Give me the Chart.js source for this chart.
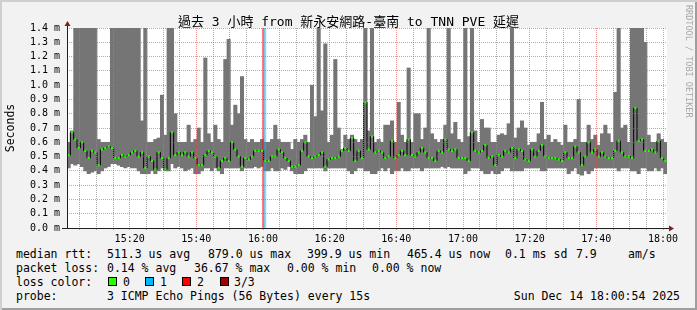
<!DOCTYPE html>
<html>
<head>
<meta charset="utf-8">
<script src="https://cdn.jsdelivr.net/npm/chart.js@4.4.1/dist/chart.umd.min.js"></script>
<style>
  html, body { margin: 0; padding: 0; }
  #frame {
    position: relative; width: 697px; height: 310px; overflow: hidden;
    background: #f2f2f2;
    box-shadow: inset 2px 2px 0 #cfcfcf, inset -2px -2px 0 #9e9e9e;
  }
  #wrap { position: absolute; left: 0; top: 0; width: 697px; height: 245px; }
  #title {
    position: absolute; left: 0; top: 12px; width: 697px; text-align: center;
    font: 13px "DejaVu Sans Mono", "Noto Sans CJK TC", monospace; line-height: 19px;
    white-space: pre; color: #000;
  }
  #mark {
    position: absolute; left: 684px; top: 5px; writing-mode: vertical-rl;
    font: 8.5px "DejaVu Sans Mono", monospace; color: #a8a8a8; white-space: pre;
  }
  .lg {
    position: absolute; font: 11.5px "DejaVu Sans Mono", monospace; line-height: 14px;
    white-space: pre; color: #000;
  }
  .box { position: absolute; width: 7px; height: 7px; border: 1px solid #000; top: 277px; }
</style>
</head>
<body>
<div id="frame">
  <div id="wrap"><canvas id="smokeChart"></canvas></div>
  <div id="title">過去 3 小時 from 新永安網路-臺南 to TNN PVE 延遲</div>
  <div id="mark">RRDTOOL / TOBI OETIKER</div>

  <div class="lg" style="left:16px;top:247px">median rtt:</div>
  <div class="lg" style="left:107px;top:247px">511.3 us avg</div>
  <div class="lg" style="left:208px;top:247px">879.0 us max</div>
  <div class="lg" style="left:307px;top:247px">399.9 us min</div>
  <div class="lg" style="left:407px;top:247px">465.4 us now</div>
  <div class="lg" style="left:505px;top:247px">0.1 ms sd</div>
  <div class="lg" style="left:576px;top:247px">7.9</div>
  <div class="lg" style="left:628px;top:247px">am/s</div>

  <div class="lg" style="left:16px;top:261px">packet loss:</div>
  <div class="lg" style="left:107px;top:261px">0.14 % avg</div>
  <div class="lg" style="left:194px;top:261px">36.67 % max</div>
  <div class="lg" style="left:287px;top:261px">0.00 % min</div>
  <div class="lg" style="left:372px;top:261px">0.00 % now</div>

  <div class="lg" style="left:16px;top:275px">loss color:</div>
  <div class="box" style="left:108px;background:#26ff00"></div>
  <div class="lg" style="left:123px;top:275px">0</div>
  <div class="box" style="left:145px;background:#00b8ff"></div>
  <div class="lg" style="left:160px;top:275px">1</div>
  <div class="box" style="left:182px;background:#ff0000"></div>
  <div class="lg" style="left:197px;top:275px">2</div>
  <div class="box" style="left:220px;background:#a00000"></div>
  <div class="lg" style="left:234px;top:275px">3/3</div>

  <div class="lg" style="left:16px;top:289px">probe:</div>
  <div class="lg" style="left:107px;top:289px">3 ICMP Echo Pings (56 Bytes) every 15s</div>
  <div class="lg" style="right:17px;top:289px">Sun Dec 14 18:00:54 2025</div>
</div>

<script>
// one sample per minute, first one at 15:01:42 (minutes counted from 15:00)
const firstMinute = 1.7;

// lowest ping of each minute (ms)
const smokeLow = [
  0.42,0.45,0.44,0.45,0.43,0.40,0.38,0.39,0.40,0.38, 0.40,0.42,0.43,0.45,0.45,0.44,0.43,0.42,0.43,0.42,
  0.42,0.40,0.38,0.38,0.38,0.40,0.38,0.40,0.42,0.40, 0.40,0.45,0.42,0.43,0.42,0.40,0.41,0.42,0.38,0.38,
  0.40,0.42,0.42,0.40,0.42,0.40,0.38,0.42,0.42,0.42, 0.42,0.42,0.40,0.42,0.42,0.42,0.43,0.42,0.43,0.40,
  0.40,0.42,0.40,0.40,0.42,0.41,0.43,0.40,0.38,0.38, 0.38,0.40,0.42,0.42,0.42,0.42,0.42,0.40,0.42,0.42,
  0.42,0.42,0.42,0.42,0.40,0.38,0.40,0.42,0.42,0.40, 0.40,0.38,0.38,0.40,0.42,0.40,0.42,0.38,0.40,0.40,
  0.42,0.40,0.40,0.42,0.42,0.42,0.40,0.42,0.42,0.42, 0.42,0.42,0.43,0.42,0.43,0.42,0.42,0.42,0.42,0.38,
  0.40,0.42,0.42,0.42,0.40,0.38,0.38,0.40,0.38,0.38, 0.40,0.42,0.42,0.40,0.40,0.40,0.40,0.42,0.42,0.42,
  0.42,0.42,0.40,0.40,0.42,0.42,0.42,0.42,0.42,0.42, 0.38,0.40,0.42,0.38,0.37,0.40,0.38,0.40,0.42,0.42,
  0.42,0.42,0.42,0.42,0.42,0.40,0.42,0.42,0.42,0.40, 0.40,0.38,0.42,0.42,0.40,0.40,0.42,0.40,0.42,0.38
];

// highest ping of each minute (ms), 1.5 = off the top of the graph
const smokeHigh = [
  0.60,0.68,1.5,1.5,1.5,1.5,1.5,1.5,1.5,0.62, 0.60,0.60,0.60,1.5,1.5,1.5,1.5,1.5,1.5,1.5,
  1.5,1.5,0.75,1.5,0.60,0.60,0.62,0.63,0.93,0.65, 1.5,1.5,0.80,0.60,0.60,0.60,0.72,0.60,0.62,0.70,
  0.60,1.19,0.66,0.60,0.72,0.62,0.60,1.18,1.32,0.72, 0.86,0.80,1.06,0.62,0.60,0.62,0.60,0.60,0.62,0.60,
  0.60,0.62,0.72,0.62,0.60,0.60,0.60,0.55,0.62,0.60, 0.62,0.65,0.60,1.00,0.78,1.5,0.82,1.29,0.60,0.65,
  1.18,0.70,0.55,0.65,0.62,0.65,0.62,0.60,0.62,1.5, 0.68,1.5,0.60,0.62,0.60,0.72,0.72,0.75,0.60,0.88,
  0.65,0.60,1.12,0.60,0.80,0.80,0.62,0.70,1.5,0.66, 0.62,0.60,0.62,0.72,1.5,0.66,0.74,0.62,0.60,1.5,
  0.64,1.5,0.68,0.60,0.76,0.70,0.70,0.60,0.60,0.65, 0.66,0.65,0.73,1.5,0.63,0.70,0.75,0.70,0.58,0.60,
  0.60,0.66,0.88,0.62,0.65,0.60,0.62,0.60,0.58,0.72, 0.60,0.60,0.62,0.90,0.60,0.60,0.72,0.62,0.65,0.58,
  0.66,0.72,0.66,0.60,0.95,1.5,0.70,0.72,0.60,1.5, 1.5,1.5,1.5,1.30,0.65,0.60,0.60,0.66,0.62,0.60
];

// median rtt of each minute (ms)
const medianRtt = [
  0.51,0.67,0.62,0.56,0.60,0.54,0.49,0.54,0.53,0.44, 0.55,0.56,0.57,0.56,0.49,0.49,0.51,0.50,0.51,0.53,
  0.54,0.50,0.53,0.42,0.50,0.47,0.41,0.53,0.49,0.41, 0.49,0.67,0.51,0.53,0.51,0.53,0.50,0.53,0.49,0.44,
  0.44,0.51,0.54,0.53,0.50,0.42,0.47,0.49,0.47,0.60, 0.55,0.50,0.43,0.49,0.48,0.50,0.54,0.54,0.54,0.47,
  0.47,0.50,0.50,0.55,0.53,0.49,0.47,0.43,0.43,0.44, 0.54,0.60,0.50,0.49,0.50,0.51,0.53,0.43,0.48,0.49,
  0.49,0.50,0.54,0.56,0.54,0.63,0.47,0.54,0.49,0.88, 0.55,0.64,0.53,0.54,0.53,0.49,0.50,0.61,0.49,0.51,
  0.54,0.51,0.62,0.51,0.50,0.53,0.56,0.53,0.49,0.49, 0.47,0.54,0.53,0.62,0.55,0.54,0.55,0.49,0.49,0.49,
  0.47,0.67,0.54,0.53,0.54,0.58,0.49,0.50,0.44,0.51, 0.50,0.54,0.53,0.56,0.49,0.55,0.54,0.48,0.47,0.55,
  0.50,0.54,0.58,0.50,0.49,0.49,0.49,0.48,0.47,0.53, 0.49,0.49,0.57,0.53,0.44,0.50,0.60,0.53,0.55,0.50,
  0.53,0.50,0.49,0.49,0.54,0.61,0.53,0.50,0.50,0.49, 0.84,0.61,0.62,0.54,0.54,0.55,0.53,0.61,0.49,0.47
];

// packet loss events (minute since 15:00, lost pings out of 3)
const lossMinutes = [60.05, 60.6];
const lossLevels = [2, 1];

const lossColors = { 1: 'rgba(0,184,255,0.5)', 2: 'rgba(255,0,0,0.5)' };
const gridMinutes = [];
for (let m = 5; m <= 180; m += 5) gridMinutes.push(m);
const yTicks = [0, 0.1, 0.2, 0.3, 0.4, 0.5, 0.6, 0.7, 0.8, 0.9, 1.0, 1.1, 1.2, 1.3, 1.4];

const mono = 'DejaVu Sans Mono';
const minorGrid = 'rgba(143,143,143,0.75)';
const majorGrid = 'rgba(222,79,79,0.6)';

const fmtTime = (m) => {
    const h = 15 + Math.floor(m / 60);
    const mm = m % 60;
    return h + ':' + (mm < 10 ? '0' : '') + mm;
};

const rrdFrame = {
    id: 'rrdFrame',
    beforeDraw(chart) {
        const {ctx, chartArea: a} = chart;
        ctx.save();
        ctx.fillStyle = '#ffffff';
        ctx.fillRect(a.left, a.top, a.right - a.left, a.bottom - a.top);
        ctx.restore();
    },
    afterDraw(chart) {
        const {ctx, chartArea: a} = chart;
        const y0 = a.bottom + 0.5;
        const x0 = a.left + 0.5;
        ctx.save();
        ctx.strokeStyle = '#1f1f1f';
        ctx.lineWidth = 1;
        ctx.beginPath();
        ctx.moveTo(a.left - 5, y0);
        ctx.lineTo(a.right + 2, y0);
        ctx.moveTo(x0, a.bottom + 1);
        ctx.lineTo(x0, a.top - 2);
        ctx.stroke();
        // arrows
        ctx.fillStyle = '#801f1f';
        ctx.beginPath();
        ctx.moveTo(x0, a.top - 7);
        ctx.lineTo(x0 - 3, a.top - 2);
        ctx.lineTo(x0 + 3, a.top - 2);
        ctx.closePath();
        ctx.fill();
        ctx.beginPath();
        ctx.moveTo(a.right + 7, y0);
        ctx.lineTo(a.right + 2, y0 - 3);
        ctx.lineTo(a.right + 2, y0 + 3);
        ctx.closePath();
        ctx.fill();
        ctx.restore();
    }
};

new Chart(document.getElementById('smokeChart').getContext('2d'), {
    type: 'bar',
    data: {
        datasets: [
            {
                type: 'line',
                label: 'median rtt',
                data: medianRtt.map((v, i) => ({x: firstMinute + i, y: v})),
                borderColor: '#000000',
                borderWidth: 1,
                stepped: 'middle',
                pointStyle: 'rect',
                pointRadius: 1.6,
                pointBorderWidth: 0,
                pointBackgroundColor: '#26ff00',
                order: 0
            },
            {
                label: 'loss',
                data: lossMinutes.map((m) => ({x: m, y: [0, 1.4]})),
                backgroundColor: lossLevels.map((l) => lossColors[l]),
                barThickness: 1.8,
                grouped: false,
                borderWidth: 0,
                order: 1
            },
            {
                label: 'smoke',
                data: smokeLow.map((v, i) => ({x: firstMinute + i, y: [v, smokeHigh[i]]})),
                backgroundColor: '#757575',
                barThickness: 3.4,
                grouped: false,
                borderWidth: 0,
                order: 2
            }
        ]
    },
    options: {
        responsive: true,
        maintainAspectRatio: false,
        animation: false,
        events: [],
        layout: { padding: { left: 0, right: 30, top: 28, bottom: 0 } },
        plugins: { legend: { display: false }, tooltip: { enabled: false } },
        scales: {
            x: {
                type: 'linear',
                min: 1.2,
                max: 181.2,
                offset: false,
                afterFit: (s) => { s.height = 17; },
                afterBuildTicks: (s) => { s.ticks = gridMinutes.map((v) => ({value: v})); },
                ticks: {
                    autoSkip: false,
                    maxRotation: 0,
                    padding: 3,
                    color: '#000',
                    font: { family: mono, size: 10 },
                    callback: (v) => (v % 20 === 0 ? fmtTime(v) : '')
                },
                grid: {
                    z: 1,
                    offset: false,
                    drawTicks: true,
                    tickLength: 2,
                    color: (c) => (c.tick && c.tick.value % 20 === 0 ? majorGrid : minorGrid),
                    tickColor: (c) => (c.tick && c.tick.value % 20 === 0 ? majorGrid : minorGrid)
                },
                border: { display: false, dash: [1, 1] }
            },
            y: {
                min: 0,
                max: 1.4,
                afterFit: (s) => { s.width = 67; },
                afterBuildTicks: (s) => { s.ticks = yTicks.map((v) => ({value: v})); },
                ticks: {
                    autoSkip: false,
                    padding: 7,
                    color: '#000',
                    font: { family: mono, size: 10 },
                    callback: (v) => v.toFixed(1) + ' m'
                },
                title: {
                    display: true,
                    text: 'Seconds',
                    color: '#000',
                    font: { family: mono, size: 11.5 },
                    padding: { top: 4, bottom: 0 }
                },
                grid: {
                    z: 1,
                    drawTicks: false,
                    color: (c) => (c.tick && c.tick.value === 0 ? 'rgba(0,0,0,0)' : majorGrid)
                },
                border: { display: false, dash: [1, 1] }
            }
        }
    },
    plugins: [rrdFrame]
});
</script>
</body>
</html>
